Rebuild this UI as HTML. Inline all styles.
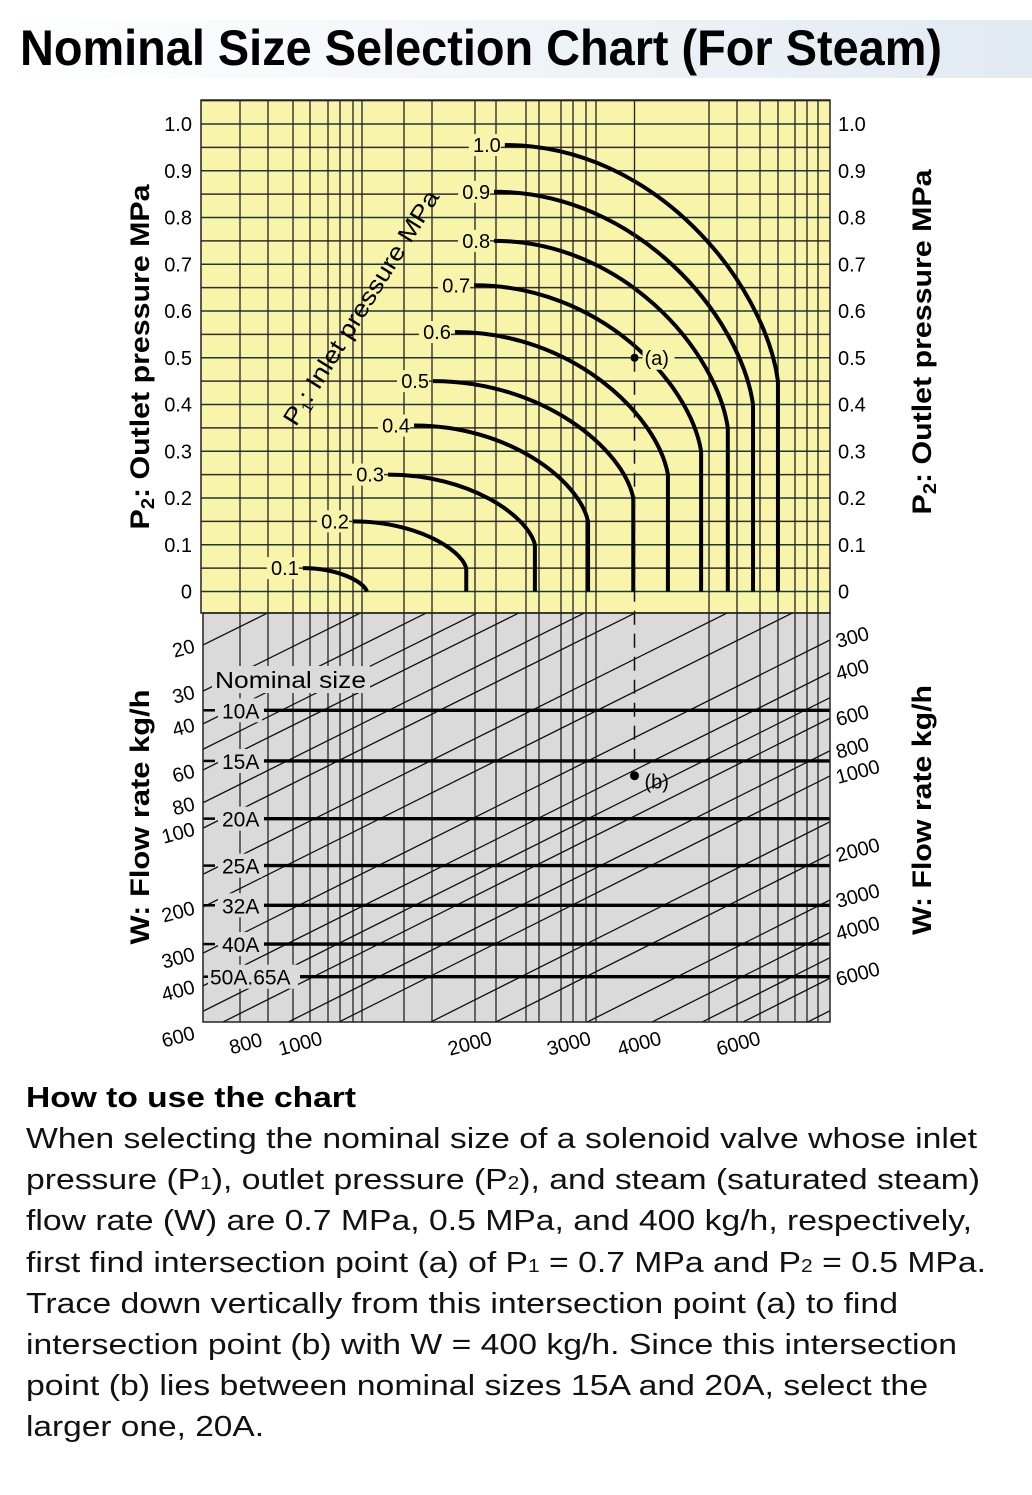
<!DOCTYPE html>
<html><head><meta charset="utf-8"><style>
html,body{margin:0;padding:0;background:#fff;}
svg{display:block;font-family:"Liberation Sans",Arial,sans-serif;}
</style></head><body>
<svg id="chart" width="1032" height="1495" viewBox="0 0 1032 1495" xmlns="http://www.w3.org/2000/svg">
<defs>
<linearGradient id="tg" x1="0" x2="1" y1="0" y2="0"><stop offset="0" stop-color="#ffffff"/><stop offset="0.5" stop-color="#f0f4f8"/><stop offset="1" stop-color="#e2eaf2"/></linearGradient>
<clipPath id="clipTop"><rect x="201" y="100" width="629" height="513"/></clipPath>
<clipPath id="clipBot"><rect x="203" y="613" width="627" height="409"/></clipPath>
</defs>
<rect x="0" y="20" width="1032" height="58" fill="url(#tg)"/>
<text x="20" y="65" font-size="50" font-weight="bold" textLength="922" lengthAdjust="spacingAndGlyphs">Nominal Size Selection Chart (For Steam)</text>

<rect x="201" y="100" width="629" height="513" fill="#f8f4aa"/>
<rect x="203" y="613" width="627" height="409" fill="#dadada"/>
<g id="gridTop" clip-path="url(#clipTop)"></g>
<g id="gridBot" clip-path="url(#clipBot)"></g>
<g id="marks"></g>
<rect x="201" y="100" width="629" height="513" fill="none" stroke="#222" stroke-width="1.5"/>
<rect x="203" y="613" width="627" height="409" fill="none" stroke="#222" stroke-width="1.5"/>
<g id="labels"></g>

<text transform="translate(149,357) rotate(-90)" text-anchor="middle" font-size="27" font-weight="bold" textLength="345" lengthAdjust="spacingAndGlyphs">P<tspan font-size="18" dy="5">2</tspan><tspan dy="-5">: Outlet pressure MPa</tspan></text>
<text transform="translate(931,342) rotate(-90)" text-anchor="middle" font-size="27" font-weight="bold" textLength="345" lengthAdjust="spacingAndGlyphs">P<tspan font-size="18" dy="5">2</tspan><tspan dy="-5">: Outlet pressure MPa</tspan></text>
<text transform="translate(149,817) rotate(-90)" text-anchor="middle" font-size="27" font-weight="bold" textLength="255" lengthAdjust="spacingAndGlyphs">W: Flow rate kg/h</text>
<text transform="translate(931,810) rotate(-90)" text-anchor="middle" font-size="27" font-weight="bold" textLength="250" lengthAdjust="spacingAndGlyphs">W: Flow rate kg/h</text>

<text x="26" y="1107" font-size="29" font-weight="bold" textLength="330" lengthAdjust="spacingAndGlyphs">How to use the chart</text>
<g font-size="29" fill="#111">
<text x="26" y="1148" textLength="951" lengthAdjust="spacingAndGlyphs">When selecting the nominal size of a solenoid valve whose inlet</text>
<text x="26" y="1189" textLength="954" lengthAdjust="spacingAndGlyphs">pressure (P<tspan font-size="18">1</tspan>), outlet pressure (P<tspan font-size="18">2</tspan>), and steam (saturated steam)</text>
<text x="26" y="1230" textLength="946" lengthAdjust="spacingAndGlyphs">flow rate (W) are 0.7 MPa, 0.5 MPa, and 400 kg/h, respectively,</text>
<text x="26" y="1272" textLength="960" lengthAdjust="spacingAndGlyphs">first find intersection point (a) of P<tspan font-size="18">1</tspan> = 0.7 MPa and P<tspan font-size="18">2</tspan> = 0.5 MPa.</text>
<text x="26" y="1313" textLength="872" lengthAdjust="spacingAndGlyphs">Trace down vertically from this intersection point (a) to find</text>
<text x="26" y="1354" textLength="931" lengthAdjust="spacingAndGlyphs">intersection point (b) with W = 400 kg/h. Since this intersection</text>
<text x="26" y="1395" textLength="902" lengthAdjust="spacingAndGlyphs">point (b) lies between nominal sizes 15A and 20A, select the</text>
<text x="26" y="1436" textLength="238" lengthAdjust="spacingAndGlyphs">larger one, 20A.</text>
</g>
</svg>
<script>
// ---- data ----
const p1Values = [0.1,0.2,0.3,0.4,0.5,0.6,0.7,0.8,0.9,1.0];
const startP2 = [0.05,0.15,0.25,0.355,0.45,0.555,0.655,0.75,0.855,0.955];
const startFlow = [1020,1252,1445,1607,1737,1900,2055,2230,2230,2330];
const chokeFlow = [1326,1990,2635,3275,3940,4540,5200,5800,6430,7120];
const chokeP2 = [0,0.05,0.1,0.15,0.2,0.25,0.3,0.35,0.4,0.45];
const p2Ticks = [0,0.1,0.2,0.3,0.4,0.5,0.6,0.7,0.8,0.9,1.0];
const p2TickLabels = ["0","0.1","0.2","0.3","0.4","0.5","0.6","0.7","0.8","0.9","1.0"];
const flowTicks = [800,1000,2000,3000,4000,6000];
const leftWTicks = [20,30,40,60,80,100,200,300,400,600];
const rightWTicks = [300,400,600,800,1000,2000,3000,4000,6000];
const wLines = [10,15,20,30,40,50,60,80,100,150,200,300,400,500,600,800,1000,1500,2000,3000,4000,5000,6000,8000,10000,15000,20000];
const sizeNames = ["10A","15A","20A","25A","32A","40A","50A.65A"];
const sizeW = [35.5,55.4,92,139,197,277,369];
const pointAFlow = 3960, pointAP2 = 0.5, pointBW = 420;
// decorative log-paper grid (pixel positions of printed vertical rules)
const gridX = [240,268,293,310,328,340,353,362,404,432,475,496,526,539,561,573,586,596,709,737,760,778,795,807,818];

// ---- scales ----
const X0=201, X1=830, BL=203;
const yP = p => 591.5 - p*467.5;
const xF = v => 298 + 563*Math.log10(v/1000);
const yWL = w => 645 + 262*Math.log10(w/20);
const yWR = w => 640 + 260*Math.log10(w/300);
const yDiag = (w,x) => yWL(w) + (yWR(w)-yWL(w))*(x-BL)/(X1-BL);

const NS="http://www.w3.org/2000/svg";
function mk(tag, parent, attrs){const e=document.createElementNS(NS,tag);for(const k in attrs)e.setAttribute(k,attrs[k]);parent.appendChild(e);return e;}
const gT=document.getElementById('gridTop'), gB=document.getElementById('gridBot'), gM=document.getElementById('marks'), gL=document.getElementById('labels');

// top grid
for(let i=-1;i<=21;i++){
  const l=mk('line',gT,{x1:X0,x2:X1,y1:yP(i*0.05),y2:yP(i*0.05),stroke:i%2?'#3a2a2a':'#1e3838','stroke-width':1.4});
  
  
}
gridX.forEach(x=>{
  const l=mk('line',gT,{x1:x,x2:x,y1:100,y2:613,stroke:'#222','stroke-width':1.3});
  
  
  const l2=mk('line',gB,{x1:x,x2:x,y1:613,y2:1022,stroke:'#222','stroke-width':1.3});
  
  
});
// diagonal constant-W lines
wLines.forEach(w=>{
  const l=mk('line',gB,{x1:BL,y1:yDiag(w,BL),x2:X1,y2:yDiag(w,X1),stroke:'#111','stroke-width':1.3});
  
  
});

// P1 curves
p1Values.forEach((p1,i)=>{
  const xs=xF(startFlow[i]), ys=yP(startP2[i]), xe=xF(chokeFlow[i]), ye=yP(chokeP2[i]);
  const dx=xe-xs, dy=ye-ys;
  let d=`M${xs},${ys} C${xs+0.55*dx},${ys} ${xe-0.05*dx},${ye-0.42*dy} ${xe},${ye}`;
  if(chokeP2[i]>0) d+=` L${xe},${yP(0)}`;
  const c=mk('path',gM,{d:d,fill:'none',stroke:'#000','stroke-width':4});
  
  
  const t=p1.toFixed(1);
  const r=mk('rect',gL,{x:xs-36,y:ys-11,width:32,height:22,fill:'#f8f4aa'});
  
  
  const tx=mk('text',gL,{x:xs-4,y:ys+7,'text-anchor':'end','font-size':20});
  tx.textContent=t;
  
  
});

// nominal size lines
sizeNames.forEach((n,i)=>{
  const y=yWL(sizeW[i]);
  const startX = n.length>4 ? 300 : 264;
  const l=mk('line',gM,{x1:startX,x2:X1,y1:y,y2:y,stroke:'#000','stroke-width':3.4});
  
  
  const s=mk('line',gM,{x1:BL,x2:215,y1:y,y2:y,stroke:'#000','stroke-width':2.5});
  
  
  const bg=mk('rect',gL,{x:n.length>4?208:218,y:y-12,width:n.length>4?90:44,height:24,fill:'#dadada'});
  
  
  const t=mk('text',gL,{x:n.length>4?210:222,y:y+8,'font-size':21});
  t.textContent=n;
  
  
});
{
  const bg=mk('rect',gL,{x:212,y:666,width:158,height:27,fill:'#dadada'});
  
  
  const t=mk('text',gL,{x:215,y:688,'font-size':23,'textLength':151,'lengthAdjust':'spacingAndGlyphs'});
  t.textContent='Nominal size';
  
  
}
// P1 axis rotated title
{
  const t=mk('text',gL,{transform:'translate(368,312) rotate(-58)','text-anchor':'middle','font-size':24,'textLength':272,'lengthAdjust':'spacingAndGlyphs'});
  t.innerHTML='P<tspan font-size="15" dy="4">1</tspan><tspan dy="-4">: Inlet pressure MPa</tspan>';
  
  
}

// point a / b and dashed trace
const ax=xF(pointAFlow), ay=yP(pointAP2), by=yDiag(pointBW, ax);
{
  const d=mk('line',gM,{x1:ax,x2:ax,y1:ay,y2:by,stroke:'#111','stroke-width':1.5,'stroke-dasharray':'14,9'});
  
  
  const s=mk('line',gM,{x1:ax,x2:ax,y1:100,y2:ay,stroke:'#222','stroke-width':1.3});
  
  
  const ca=mk('circle',gM,{cx:ax,cy:ay,r:4,fill:'#000'});
  
  
  const cb=mk('circle',gM,{cx:ax,cy:by,r:4.5,fill:'#000'});
  
  
  const ra=mk('rect',gL,{x:ax+8,y:ay-12,width:32,height:24,fill:'#f8f4aa'});
  
  
  const ta=mk('text',gL,{x:ax+10,y:ay+7,'font-size':20});
  ta.textContent='(a)';
  
  
  const tb=mk('text',gL,{x:ax+10,y:by+13,'font-size':20});
  tb.textContent='(b)';
  
  
}

// tick labels
p2Ticks.forEach((p,i)=>{
  const y=yP(p)+7;
  const a=mk('text',gL,{x:192,y:y,'text-anchor':'end','font-size':20});
  a.textContent=p2TickLabels[i];
  
  
  const b=mk('text',gL,{x:838,y:y,'font-size':20});
  b.textContent=p2TickLabels[i];
  
  
});
leftWTicks.forEach(w=>{
  const y=yWL(w)+7;
  const t=mk('text',gL,{transform:`translate(196,${y}) rotate(-15)`,'text-anchor':'end','font-size':20});
  t.textContent=w;
  
  
});
rightWTicks.forEach(w=>{
  const y=yWR(w)+8;
  const t=mk('text',gL,{transform:`translate(838,${y}) rotate(-15)`,'font-size':20});
  t.textContent=w;
  
  
});
flowTicks.forEach(v=>{
  const x=xF(v);
  const t=mk('text',gL,{transform:`translate(${x+4},1050) rotate(-15)`,'text-anchor':'middle','font-size':20});
  t.textContent=v;
  
  
});
</script>
</body></html>
